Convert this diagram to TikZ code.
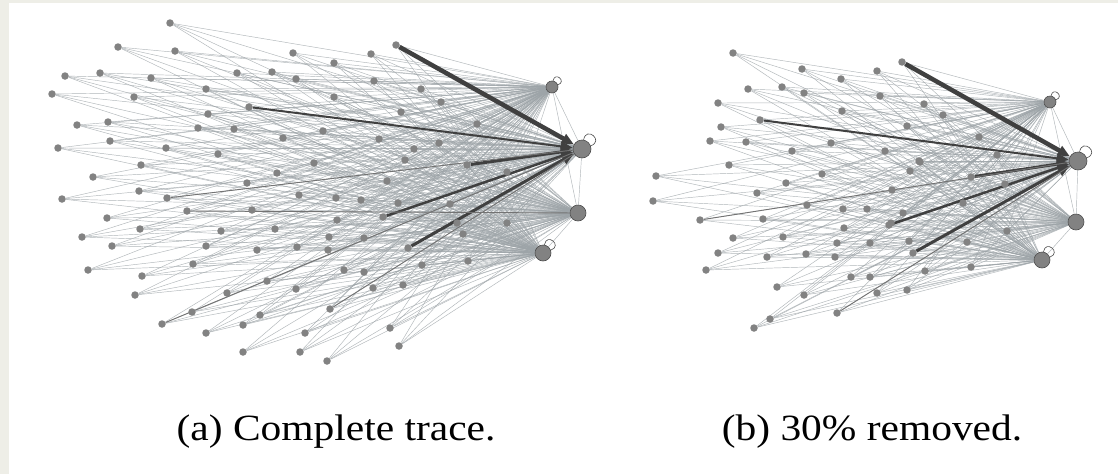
\documentclass[tikz,border=0pt]{standalone}
\usepackage{fontspec}
\setmainfont{Liberation Serif}
\newfontfamily\capfont[FakeStretch=1.12]{Liberation Serif}
\usetikzlibrary{arrows.meta,backgrounds}
\definecolor{paper}{HTML}{EEEEE7}
\definecolor{dot}{HTML}{828282}
\definecolor{wirec}{HTML}{9DA4A8}

\begin{document}
\begin{tikzpicture}[x=1pt, y=-1pt,
  leaf/.style={circle, fill=dot, inner sep=0pt, minimum size=7.5pt},
  hub/.style={circle, fill=dot, draw=gray!60!black, line width=0.6pt, inner sep=0pt},
  wire/.style={wirec, line width=0.45pt, opacity=0.8},
  heavy/.style={black!75, line width=#1, -{Triangle[length=12pt, width=10pt]}},
  heavy/.default=2.5pt,
  medium/.style={black!55, line width=0.9pt},
  loopline/.style={gray!60!black, line width=0.6pt, looseness=4},
  caption/.style={font=\capfont\fontsize{37}{40}\selectfont}
]

  % --- canvas ---
  \useasboundingbox (0,0) rectangle (1118,474);
  \begin{scope}[on background layer]
    \fill[paper] (0,0) rectangle (1118,474);
    \fill[white] (9,3) rectangle (1118,474);
  \end{scope}

  % === (a) complete trace ===
  \node[hub, minimum size=18pt] (ha1) at (582,149) {};
  \node[hub, minimum size=12pt] (ha2) at (552,87)  {};
  \node[hub, minimum size=16pt] (ha3) at (578,213) {};
  \node[hub, minimum size=16pt] (ha4) at (543,253) {};

  \foreach \x/\y [count=\i] in {170/23, 118/47, 175/51, 65/76, 100/73, 151/78,
      237/73, 272/72, 52/94, 134/97, 206/89, 77/125, 108/122, 208/114, 198/128,
      234/129, 283/138, 110/141, 58/148, 166/148, 218/154, 141/165, 277/173,
      93/177, 247/183, 139/191, 62/199, 252/210, 107/218, 82/237, 140/229,
      221/231, 275/229, 112/246, 206/246, 257/250, 88/270, 193/264, 142/276,
      135/295, 227/293, 267/281, 192/312, 243/325, 260/315, 206/333, 243/352,
      293/53, 334/63, 371/54, 296/79, 374/81, 421/89, 334/97, 441/102, 401/112,
      477/124, 323/131, 379/139, 414/149, 439/143, 314/163, 405/160, 387/181,
      299/195, 336/198, 361/200, 398/203, 450/204, 337/220, 329/237, 364/238,
      463/234, 507/223, 297/247, 328/250, 344/270, 364/272, 422/265, 468/261,
      296/289, 373/288, 403/285, 305/333, 390/328, 300/352, 327/361, 399/346,
      507/172, 457/223}
    \node[leaf] (a\i) at (\x,\y) {};

  % sources of the heavy flows
  \node[leaf] (sa1) at (396,45)  {};
  \node[leaf] (sa2) at (249,107) {};
  \node[leaf] (sa3) at (467,165) {};
  \node[leaf] (sa4) at (383,217) {};
  \node[leaf] (sa5) at (408,248) {};
  \node[leaf] (sa6) at (330,309) {};
  \node[leaf] (sa7) at (167,198) {};
  \node[leaf] (sa8) at (162,324) {};
  \node[leaf] (sa9) at (187,211) {};

  % === (b) 30% removed ===
  \node[hub, minimum size=18pt] (hb1) at (1078,161) {};
  \node[hub, minimum size=12pt] (hb2) at (1050,102) {};
  \node[hub, minimum size=16pt] (hb3) at (1076,222) {};
  \node[hub, minimum size=16pt] (hb4) at (1042,260) {};

  \foreach \x/\y [count=\i] in {733/53, 802/69, 877/71, 841/79, 748/89, 782/87,
      804/93, 880/96, 924/104, 718/103, 842/111, 721/127, 907/126, 710/141,
      746/142, 792/151, 831/143, 885/151, 729/165, 822/174, 910/171, 920/162,
      656/176, 786/183, 653/201, 757/193, 892/190, 807/205, 843/209, 867/209,
      763/219, 903/213, 733/238, 783/237, 844/228, 718/253, 767/257, 806/254,
      835/257, 837/243, 870/243, 909/241, 706/270, 851/277, 870/277, 925/271,
      777/287, 804/295, 877/293, 907/290, 770/319, 754/328, 943/115, 979/137,
      997/155, 919/161, 1005/184, 963/203, 1007/231, 891/223, 967/242, 971/267}
    \node[leaf] (b\i) at (\x,\y) {};

  \node[leaf] (sb1) at (902,62)  {};
  \node[leaf] (sb2) at (760,120) {};
  \node[leaf] (sb3) at (971,177) {};
  \node[leaf] (sb4) at (889,225) {};
  \node[leaf] (sb5) at (913,253) {};
  \node[leaf] (sb6) at (837,313) {};
  \node[leaf] (sb7) at (700,220) {};

  % --- thin traffic to every hub ---
  \begin{scope}[on background layer]
    \foreach \i in {1,...,90}
      \foreach \h in {1,...,4}
        \draw[wire] (a\i) -- (ha\h);
    \foreach \i in {1,...,9}
      \foreach \h in {1,...,4}
        \draw[wire] (sa\i) -- (ha\h);
    \foreach \i in {1,...,62}
      \foreach \h in {1,...,4}
        \draw[wire] (b\i) -- (hb\h);
    \foreach \i in {1,...,7}
      \foreach \h in {1,...,4}
        \draw[wire] (sb\i) -- (hb\h);
    % hub to hub
    \draw[wire] (ha2) -- (ha1) -- (ha3) -- (ha4) (ha2) -- (ha3);
    \draw[wire] (hb2) -- (hb1) -- (hb3) -- (hb4) (hb2) -- (hb3);

    % --- heavy flows ---
    \draw[heavy=4.5pt] (sa1) -- (ha1);
    \draw[heavy=2pt]   (sa2) -- (ha1);
    \draw[heavy=3pt]   (sa3) -- (ha1);
    \draw[heavy=2.5pt] (sa4) -- (ha1);
    \draw[heavy=3pt]   (sa5) -- (ha1);
    \draw[medium] (sa6) -- (ha1);
    \draw[medium] (sa7) -- (ha1);
    \draw[medium] (sa8) -- (ha1);
    \draw[medium] (sa9) -- (ha3);

    \draw[heavy=4.5pt] (sb1) -- (hb1);
    \draw[heavy=2pt]   (sb2) -- (hb1);
    \draw[heavy=3pt]   (sb3) -- (hb1);
    \draw[heavy=2.5pt] (sb4) -- (hb1);
    \draw[heavy=3pt]   (sb5) -- (hb1);
    \draw[medium] (sb6) -- (hb1);
    \draw[medium] (sb7) -- (hb1);
  \end{scope}

  % self loops
  \draw[loopline] (ha1) to[out=80, in=20] (ha1);
  \draw[loopline] (ha2) to[out=80, in=20] (ha2);
  \draw[loopline] (ha4) to[out=80, in=20] (ha4);
  \draw[loopline] (hb1) to[out=80, in=20] (hb1);
  \draw[loopline] (hb2) to[out=80, in=20] (hb2);
  \draw[loopline] (hb4) to[out=80, in=20] (hb4);

  % --- captions ---
  \node[caption] (capa) at (336,432) {(a) Complete trace.};
  \node[caption] (capb) at (872,432) {(b) 30\% removed.};

\end{tikzpicture}
\end{document}
